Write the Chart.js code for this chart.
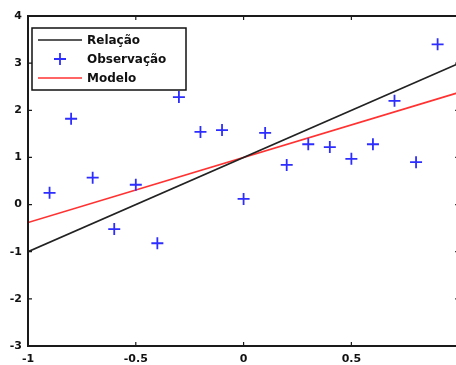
<!DOCTYPE html>
<html>
<head>
<meta charset="utf-8">
<script src="https://cdn.jsdelivr.net/npm/chart.js@4"></script>
<style>
  html, body { margin: 0; padding: 0; background: #fff; overflow: hidden; }
  #plot { display: block; }
</style>
</head>
<body>
<canvas id="plot" width="470" height="365"></canvas>
<script>
// observations
const obsX = [-0.9, -0.8, -0.7, -0.6, -0.5, -0.4, -0.3, -0.2, -0.1, 0, 0.1, 0.2, 0.3, 0.4, 0.5, 0.6, 0.7, 0.8, 0.9];
const obsY = [0.25, 1.82, 0.57, -0.52, 0.42, -0.82, 2.28, 1.54, 1.58, 0.12, 1.52, 0.84, 1.28, 1.22, 0.97, 1.28, 2.2, 0.9, 3.4];

// straight lines, endpoints at x = -1 and x = 1
const lineX = [-1, 1];
const relacaoY = [-1, 3];
const modeloY = [-0.38, 2.38];

const xTicks = [-1, -0.5, 0, 0.5, 1];
const yTicks = [-3, -2, -1, 0, 1, 2, 3, 4];

const tickFont = { family: 'DejaVu Sans', size: 11, weight: 'bold' };

const toPoints = (xs, ys) => xs.map((x, i) => ({ x: x, y: ys[i] }));

// box round the plot area with inward ticks on every side
const boxPlugin = {
  id: 'box',
  afterDatasetsDraw(chart) {
    const { ctx, chartArea: a, scales } = chart;
    ctx.save();
    ctx.strokeStyle = '#1a1a1a';
    ctx.lineWidth = 2;
    ctx.strokeRect(a.left, a.top, a.right - a.left, a.bottom - a.top);
    ctx.lineWidth = 1.2;
    ctx.beginPath();
    xTicks.forEach(v => {
      const px = scales.x.getPixelForValue(v);
      ctx.moveTo(px, a.bottom); ctx.lineTo(px, a.bottom - 4);
      ctx.moveTo(px, a.top); ctx.lineTo(px, a.top + 4);
    });
    yTicks.forEach(v => {
      const py = scales.y.getPixelForValue(v);
      ctx.moveTo(a.left, py); ctx.lineTo(a.left + 4, py);
      ctx.moveTo(a.right, py); ctx.lineTo(a.right - 4, py);
    });
    ctx.stroke();
    ctx.restore();
  }
};

// legend box in the upper left corner of the axes
const legendBoxPlugin = {
  id: 'legendBox',
  afterDraw(chart) {
    const { ctx, chartArea: a } = chart;
    const x0 = a.left + 4, y0 = a.top + 12, w = 154, h = 62;
    ctx.save();
    ctx.fillStyle = '#fff';
    ctx.fillRect(x0, y0, w, h);
    ctx.strokeStyle = '#111';
    ctx.lineWidth = 1.5;
    ctx.strokeRect(x0, y0, w, h);
    ctx.font = 'bold 12px "DejaVu Sans"';
    ctx.textBaseline = 'middle';
    chart.data.datasets.forEach((ds, i) => {
      const cy = y0 + 12 + i * 19;
      ctx.strokeStyle = ds.borderColor;
      ctx.lineWidth = ds.borderWidth;
      ctx.beginPath();
      if (ds.showLine) {
        ctx.moveTo(x0 + 6, cy);
        ctx.lineTo(x0 + 50, cy);
      } else {
        ctx.moveTo(x0 + 22, cy); ctx.lineTo(x0 + 34, cy);
        ctx.moveTo(x0 + 28, cy - 6); ctx.lineTo(x0 + 28, cy + 6);
      }
      ctx.stroke();
      ctx.fillStyle = '#111';
      ctx.fillText(ds.label, x0 + 55, cy + 1);
    });
    ctx.restore();
  }
};

new Chart(document.getElementById('plot'), {
  type: 'scatter',
  data: {
    datasets: [
      {
        label: 'Relação',
        data: toPoints(lineX, relacaoY),
        showLine: true,
        borderColor: '#222',
        borderWidth: 1.6,
        pointRadius: 0
      },
      {
        label: 'Observação',
        data: toPoints(obsX, obsY),
        showLine: false,
        pointStyle: 'cross',
        pointRadius: 6,
        borderColor: 'rgb(45,45,255)',
        backgroundColor: 'rgb(45,45,255)',
        borderWidth: 1.8
      },
      {
        label: 'Modelo',
        data: toPoints(lineX, modeloY),
        showLine: true,
        borderColor: 'rgb(255,50,50)',
        borderWidth: 1.6,
        pointRadius: 0
      }
    ]
  },
  options: {
    responsive: false,
    animation: false,
    devicePixelRatio: 1,
    layout: { padding: { top: 16, right: 5, left: 0, bottom: 0 } },
    plugins: {
      legend: { display: false },
      tooltip: { enabled: false }
    },
    scales: {
      x: {
        type: 'linear',
        min: -1,
        max: 1,
        afterFit: s => { s.height = 19; },
        afterBuildTicks: s => { s.ticks = xTicks.map(v => ({ value: v })); },
        ticks: { font: tickFont, color: '#111', padding: 7, maxRotation: 0, callback: v => String(v) },
        grid: { display: false, drawTicks: false },
        border: { display: false }
      },
      y: {
        min: -3,
        max: 4,
        afterFit: s => { s.width = 28; },
        afterBuildTicks: s => { s.ticks = yTicks.map(v => ({ value: v })); },
        ticks: { font: tickFont, color: '#111', padding: 6, callback: v => String(v) },
        grid: { display: false, drawTicks: false },
        border: { display: false }
      }
    }
  },
  plugins: [boxPlugin, legendBoxPlugin]
});
</script>
</body>
</html>
